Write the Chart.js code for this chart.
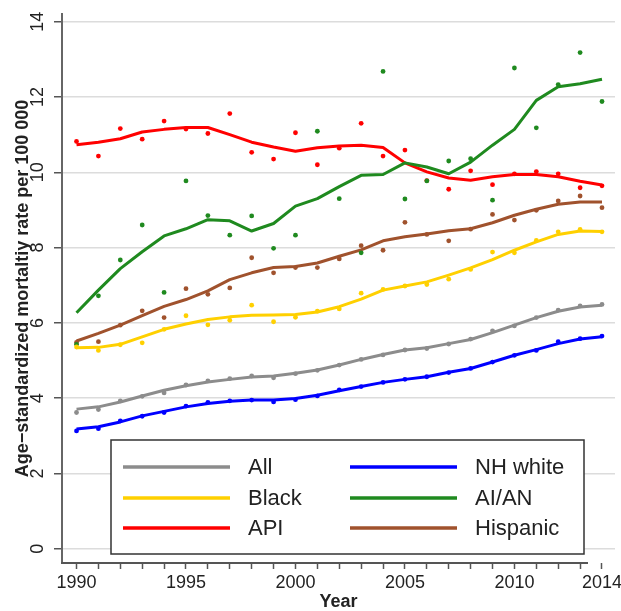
<!DOCTYPE html>
<html>
<head>
<meta charset="utf-8">
<script src="https://cdn.jsdelivr.net/npm/chart.js@4"></script>
<style>
  html, body { margin: 0; padding: 0; background: #fff; }
  #wrap { position: relative; width: 621px; height: 611px; }
</style>
</head>
<body>
<div id="wrap"><canvas id="chart"></canvas></div>
<script>
const years = [1990,1991,1992,1993,1994,1995,1996,1997,1998,1999,2000,2001,2002,
  2003,2004,2005,2006,2007,2008,2009,2010,2011,2012,2013,2014];
const xTickLabels = [1990, 1995, 2000, 2005, 2010, 2014];
const yTicks = [0, 2, 4, 6, 8, 10, 12, 14];

// observed rates (dots)
const allPts      = [3.62,3.70,3.93,4.05,4.14,4.35,4.46,4.52,4.59,4.54,4.65,4.74,4.88,5.03,5.15,5.28,5.32,5.44,5.57,5.79,5.92,6.14,6.34,6.45,6.49];
const whitePts    = [3.13,3.19,3.40,3.52,3.62,3.79,3.89,3.93,3.95,3.90,3.96,4.06,4.22,4.31,4.42,4.50,4.57,4.68,4.79,4.96,5.14,5.27,5.50,5.58,5.65];
const blackPts    = [5.36,5.27,5.42,5.47,5.83,6.19,5.95,6.07,6.47,6.03,6.15,6.31,6.37,6.79,6.89,6.98,7.02,7.16,7.42,7.88,7.86,8.19,8.42,8.48,8.42];
const aianPts     = [5.43,6.72,7.67,8.60,6.81,9.77,8.85,8.33,8.84,7.98,8.33,11.09,9.30,7.86,12.68,9.29,9.77,10.30,10.36,9.26,12.77,11.18,12.33,13.18,11.88];
const apiPts      = [10.82,10.43,11.16,10.88,11.36,11.15,11.03,11.56,10.53,10.35,11.05,10.20,10.64,11.30,10.43,10.59,9.78,9.55,10.04,9.67,9.96,10.02,9.96,9.59,9.64];
const hispPts     = [5.48,5.50,5.94,6.32,6.14,6.91,6.76,6.93,7.73,7.33,7.47,7.47,7.70,8.05,7.93,8.67,8.35,8.18,8.49,8.88,8.73,8.99,9.24,9.37,9.06];

// smoothed trends (lines)
const allFit   = [3.71,3.77,3.90,4.06,4.21,4.33,4.43,4.50,4.56,4.59,4.66,4.75,4.88,5.03,5.16,5.28,5.34,5.45,5.56,5.74,5.94,6.14,6.31,6.42,6.47];
const whiteFit = [3.18,3.24,3.37,3.53,3.65,3.77,3.86,3.92,3.95,3.95,3.99,4.08,4.20,4.31,4.42,4.50,4.57,4.69,4.79,4.96,5.14,5.29,5.45,5.57,5.63];
const blackFit = [5.34,5.35,5.43,5.63,5.83,5.97,6.09,6.16,6.20,6.21,6.22,6.29,6.43,6.63,6.87,6.98,7.09,7.27,7.46,7.68,7.93,8.15,8.35,8.44,8.43];
const aianFit  = [6.27,6.87,7.44,7.89,8.31,8.50,8.74,8.71,8.44,8.64,9.10,9.30,9.62,9.92,9.94,10.25,10.14,9.96,10.27,10.72,11.14,11.91,12.27,12.35,12.47];
const apiFit   = [10.73,10.80,10.89,11.07,11.14,11.19,11.19,11.00,10.80,10.67,10.56,10.65,10.70,10.72,10.66,10.25,10.01,9.85,9.79,9.88,9.94,9.94,9.88,9.76,9.66];
const hispFit  = [5.52,5.72,5.94,6.19,6.44,6.62,6.85,7.15,7.33,7.47,7.50,7.59,7.77,7.94,8.18,8.29,8.36,8.45,8.50,8.66,8.86,9.02,9.15,9.21,9.21];

const groups = [
  { name: 'All',      color: '#8c8c8c', pts: allPts,   fit: allFit },
  { name: 'NH white', color: '#0000ff', pts: whitePts, fit: whiteFit },
  { name: 'Black',    color: '#ffd000', pts: blackPts, fit: blackFit },
  { name: 'AI/AN',    color: '#1f8a1f', pts: aianPts,  fit: aianFit },
  { name: 'API',      color: '#ff0000', pts: apiPts,   fit: apiFit },
  { name: 'Hispanic', color: '#a0522d', pts: hispPts,  fit: hispFit },
];
// legend layout: two columns, three rows
const legendCols = [['All', 'Black', 'API'], ['NH white', 'AI/AN', 'Hispanic']];

const FONT = '"Liberation Sans", Arial, Helvetica, sans-serif';
const toXY = arr => arr.map((v, i) => ({ x: years[i], y: v }));

const datasets = [];
groups.forEach(g => {
  datasets.push({
    label: g.name + ' points', data: toXY(g.pts), showLine: false,
    pointRadius: 2.4, pointBorderWidth: 0, pointBackgroundColor: g.color, borderColor: g.color
  });
});
groups.forEach(g => {
  datasets.push({
    label: g.name, data: toXY(g.fit), showLine: true, tension: 0,
    borderColor: g.color, borderWidth: 3, pointRadius: 0, borderJoinStyle: 'round'
  });
});

const decor = {
  id: 'decor',
  afterDraw(chart) {
    const ctx = chart.ctx, a = chart.chartArea;
    ctx.save();
    // bottom frame line (stops short of the last year, like the original)
    ctx.strokeStyle = '#555';
    ctx.lineWidth = 2;
    ctx.beginPath();
    ctx.moveTo(a.left - 1, a.bottom);
    ctx.lineTo(588, a.bottom);
    ctx.stroke();

    // legend box
    const bx = 111, by = 440, bw = 473, bh = 114;
    ctx.fillStyle = '#fff';
    ctx.fillRect(bx, by, bw, bh);
    ctx.strokeStyle = '#333';
    ctx.lineWidth = 1.5;
    ctx.strokeRect(bx, by, bw, bh);
    const colX = [123, 350];
    const rowY = [467, 498, 528];
    ctx.font = '22px ' + FONT;
    ctx.textBaseline = 'middle';
    ctx.textAlign = 'left';
    legendCols.forEach((col, ci) => {
      col.forEach((name, ri) => {
        const g = groups.find(d => d.name === name);
        ctx.strokeStyle = g.color;
        ctx.lineWidth = 3.5;
        ctx.beginPath();
        ctx.moveTo(colX[ci], rowY[ri]);
        ctx.lineTo(colX[ci] + 107, rowY[ri]);
        ctx.stroke();
        ctx.fillStyle = '#222';
        ctx.fillText(name, colX[ci] + 125, rowY[ri] + 1);
      });
    });
    ctx.restore();
  }
};

new Chart(document.getElementById('chart'), {
  type: 'scatter',
  data: { datasets },
  plugins: [decor],
  options: {
    responsive: true,
    maintainAspectRatio: false,
    animation: false,
    layout: { padding: { top: 14, right: 6, left: 0, bottom: 0 } },
    plugins: { legend: { display: false }, tooltip: { enabled: false } },
    scales: {
      x: {
        type: 'linear', min: 1989.337, max: 2014.594,
        afterBuildTicks: s => { s.ticks = years.map(v => ({ value: v })); },
        afterFit: s => { s.height = 48; s.paddingLeft = 0; s.paddingRight = 0; },
        border: { display: false },
        grid: { drawOnChartArea: false, drawTicks: true, tickLength: 6, tickColor: '#555', tickWidth: 1.5 },
        ticks: {
          autoSkip: false, maxRotation: 0, padding: 3, color: '#222',
          font: { family: FONT, size: 18 },
          callback: v => xTickLabels.includes(v) ? String(v) : ''
        },
        title: { display: true, text: 'Year', color: '#222',
          font: { family: FONT, size: 18, weight: 'bold', lineHeight: 1 }, padding: { top: 0, bottom: 0 } }
      },
      y: {
        type: 'linear', min: -0.377, max: 14.204,
        afterBuildTicks: s => { s.ticks = yTicks.map(v => ({ value: v })); },
        afterFit: s => { s.width = 62; s.paddingTop = 0; s.paddingBottom = 0; },
        border: { display: true, color: '#666', width: 2 },
        grid: { color: '#dcdcdc', lineWidth: 1.5, drawTicks: true, tickLength: 8, tickColor: '#555', tickWidth: 1.5 },
        ticks: {
          minRotation: 90, maxRotation: 90, crossAlign: 'center', padding: 6, color: '#222',
          font: { family: FONT, size: 18 }
        },
        title: { display: true, text: 'Age\u2212standardized mortaltiy rate per 100 000', color: '#222',
          font: { family: FONT, size: 18, weight: 'bold', lineHeight: 1.2 }, padding: { top: 12, bottom: 0 } }
      }
    }
  }
});
</script>
</body>
</html>
